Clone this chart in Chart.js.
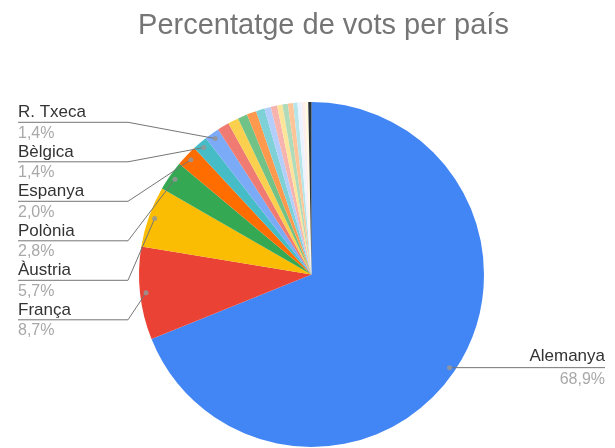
<!DOCTYPE html>
<html>
<head>
<meta charset="utf-8">
<script src="https://cdn.jsdelivr.net/npm/chart.js@4/dist/chart.umd.min.js"></script>
<style>
  html, body { margin: 0; padding: 0; background: #fff; }
  #wrap { width: 615px; height: 448px; }
</style>
</head>
<body>
<div id="wrap"><canvas id="pie" width="615" height="448"></canvas></div>
<script>
// Vots per país (percentatge)
const countries = [
  "Alemanya", "França", "Àustria", "Polònia", "Espanya", "Bèlgica", "R. Txeca",
  "Itàlia", "Països Baixos", "Suècia", "Dinamarca", "Hongria", "Eslovàquia",
  "Portugal", "Finlàndia", "Irlanda", "Grècia", "Eslovènia", "Croàcia",
  "Luxemburg", "Romania", "Altres"
];
const votes = [
  68.9, 8.7, 5.7, 2.8, 2.0, 1.4, 1.4,
  1.1, 1.0, 0.9, 0.9, 0.8, 0.6,
  0.6, 0.5, 0.5, 0.5, 0.4, 0.4,
  0.3, 0.3, 0.3
];
const sliceColors = [
  "#4285F4", "#EA4335", "#FBBC04", "#34A853", "#FF6D01", "#46BDC6", "#7BAAF7",
  "#F07B72", "#FCD04F", "#71C287", "#FF994D", "#7ED1D7", "#B3CEFB",
  "#F7B4AE", "#FDE49B", "#AEDCBA", "#FFC599", "#B5E5E8", "#ECF3FE",
  "#FDEEED", "#FFF8E1", "#263238"
];
// slices with a label on the left, top to bottom
const leftLabels = ["R. Txeca", "Bèlgica", "Espanya", "Polònia", "Àustria", "França"];
const rightLabels = ["Alemanya"];
const title = "Percentatge de vots per país";

const FONT = '"Liberation Sans", Arial, sans-serif';
const fmt = v => v.toFixed(1).replace(".", ",") + "%";

function dotFor(arc) {
  const p = arc.getProps(["x", "y", "startAngle", "endAngle", "outerRadius"], true);
  const mid = (p.startAngle + p.endAngle) / 2;
  const r = p.outerRadius - 6;
  return { x: p.x + Math.cos(mid) * r, y: p.y + Math.sin(mid) * r };
}

function drawDot(ctx, d) {
  ctx.fillStyle = "rgba(150,150,150,0.85)";
  ctx.beginPath();
  ctx.arc(d.x, d.y, 2.5, 0, Math.PI * 2);
  ctx.fill();
}

const labelPlugin = {
  id: "sliceLabels",
  afterDraw(chart) {
    const ctx = chart.ctx;
    const arcs = chart.getDatasetMeta(0).data;
    ctx.save();

    // title
    ctx.fillStyle = "#757575";
    ctx.font = "29px " + FONT;
    ctx.textAlign = "center";
    ctx.textBaseline = "alphabetic";
    ctx.fillText(title, 323.5, 34);

    // left side labels
    leftLabels.forEach((name, i) => {
      const idx = countries.indexOf(name);
      const d = dotFor(arcs[idx]);
      const base = 117.3 + i * 39.5;
      const lineY = base + 5;
      ctx.strokeStyle = "#757575";
      ctx.lineWidth = 1;
      ctx.beginPath();
      ctx.moveTo(18, lineY);
      ctx.lineTo(128, lineY);
      ctx.lineTo(d.x, d.y);
      ctx.stroke();
      drawDot(ctx, d);

      ctx.textAlign = "left";
      ctx.fillStyle = "#333";
      ctx.font = "17px " + FONT;
      ctx.fillText(name, 18, base);
      ctx.fillStyle = "#a8a8a8";
      ctx.font = "16px " + FONT;
      ctx.fillText(fmt(votes[idx]), 18, base + 20.5);
    });

    // right side labels
    rightLabels.forEach(name => {
      const idx = countries.indexOf(name);
      const d = dotFor(arcs[idx]);
      ctx.strokeStyle = "#757575";
      ctx.lineWidth = 1;
      ctx.beginPath();
      ctx.moveTo(d.x, d.y);
      ctx.lineTo(605, d.y);
      ctx.stroke();
      drawDot(ctx, d);

      ctx.textAlign = "right";
      ctx.fillStyle = "#333";
      ctx.font = "17px " + FONT;
      ctx.fillText(name, 605, d.y - 6.5);
      ctx.fillStyle = "#a8a8a8";
      ctx.font = "16px " + FONT;
      ctx.fillText(fmt(votes[idx]), 605, d.y + 16);
    });

    ctx.restore();
  }
};

new Chart(document.getElementById("pie"), {
  type: "pie",
  data: {
    labels: countries,
    datasets: [{
      data: votes,
      backgroundColor: sliceColors,
      borderWidth: 0,
      offset: 0,
      hoverOffset: 0
    }]
  },
  options: {
    responsive: false,
    animation: false,
    layout: { padding: { top: 102, bottom: 1, left: 100, right: 92 } },
    plugins: {
      legend: { display: false },
      tooltip: { enabled: false },
      title: { display: false }
    }
  },
  plugins: [labelPlugin]
});
</script>
</body>
</html>
